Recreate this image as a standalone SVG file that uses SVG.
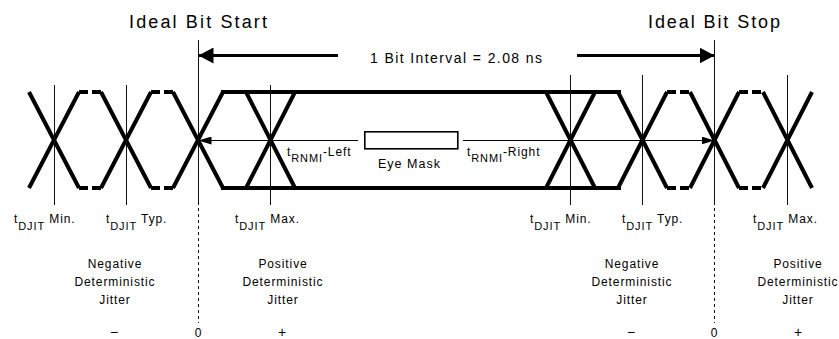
<svg xmlns="http://www.w3.org/2000/svg" width="839" height="339" viewBox="0 0 839 339">
<style>
.bg{fill:#fff}
.x{stroke:#000;stroke-width:4;fill:none}
.rail{stroke:#000;stroke-width:4;fill:none}
.dash{stroke:#000;stroke-width:4;fill:none;stroke-dasharray:9 4}
.vl{stroke:#111;stroke-width:1;fill:none}
.dot{stroke:#111;stroke-width:1;fill:none;stroke-dasharray:3 3}
.thick{stroke:#000;stroke-width:3;fill:none}
.thin{stroke:#000;stroke-width:1;fill:none}
.mask{stroke:#000;stroke-width:1.6;fill:#fff}
text{font-family:"Liberation Sans",Arial,sans-serif;fill:#000}
.t18{font-size:18px}
.t14{font-size:14px}
.t12{font-size:12.5px;letter-spacing:1px}
.t11{font-size:12px;letter-spacing:0.9px}
.sub{font-size:11px}
.sign{font-size:14px}
.mid{text-anchor:middle}
</style>
<defs>
<marker id="bigHead" markerWidth="15" markerHeight="16" refX="15" refY="8" orient="auto" markerUnits="userSpaceOnUse">
<path d="M0,0 L15,8 L0,16 Z" fill="#000"/>
</marker>
<marker id="smallHead" markerWidth="13" markerHeight="8" refX="13" refY="4" orient="auto" markerUnits="userSpaceOnUse">
<path d="M0,0 L13,4 L0,8 Z" fill="#000"/>
</marker>
</defs>
<rect class="bg" x="0" y="0" width="839" height="339"/>

<g id="eye-pattern">
<path class="rail" d="M221,92 H621 M221,188 H621"/>
<path class="dash" d="M79,92 H101 M151,92 H173 M667,92 H690 M739,92 H763 M79,188 H101 M151,188 H173 M667,188 H690 M739,188 H763"/>
<path class="x" d="M29,92 L79,188 M79,92 L29,188"/>
<path class="x" d="M101,92 L151,188 M151,92 L101,188"/>
<path class="x" d="M173,92 L223,188 M223,92 L173,188"/>
<path class="x" d="M246,92 L295,188 M295,92 L246,188"/>
<path class="x" d="M546,92 L595,188 M595,92 L546,188"/>
<path class="x" d="M618,92 L667,188 M667,92 L618,188"/>
<path class="x" d="M690,92 L739,188 M739,92 L690,188"/>
<path class="x" d="M763,92 L812,188 M812,92 L763,188"/>
</g>

<g id="reference-lines">
<path class="vl" d="M54.5,85 V205 M126.5,85 V205 M270.5,85 V205 M570.5,75 V205 M642.5,75 V205 M787.5,75 V205"/>
<path class="vl" d="M198.5,40 V205 M714.5,40 V205"/>
<path class="dot" d="M198.5,208 V323 M714.5,208 V323"/>
</g>

<g id="eye-mask">
<rect class="mask" x="364.8" y="131.8" width="93" height="17"/>
<text class="t12" x="378" y="168">Eye Mask</text>
</g>

<g id="connectors">
<line class="thick" x1="338" y1="55.5" x2="198.5" y2="55.5" marker-end="url(#bigHead)"/>
<line class="thick" x1="577" y1="55.5" x2="714.5" y2="55.5" marker-end="url(#bigHead)"/>
<line class="thin" x1="358" y1="140.5" x2="198.5" y2="140.5" marker-end="url(#smallHead)"/>
<line class="thin" x1="463" y1="140.5" x2="714.5" y2="140.5" marker-end="url(#smallHead)"/>
</g>

<g id="title-start"><text class="t18" x="129" y="28" textLength="138" lengthAdjust="spacing">Ideal Bit Start</text></g>
<g id="title-stop"><text class="t18" x="648" y="28" textLength="132" lengthAdjust="spacing">Ideal Bit Stop</text></g>
<g id="interval-label"><text class="t14" x="370" y="63" textLength="172" lengthAdjust="spacing">1 Bit Interval = 2.08 ns</text></g>

<g id="rnmi-left"><text class="t11" x="287" y="156">t<tspan class="sub" dy="6">RNMI</tspan><tspan dy="-6">-Left</tspan></text></g>
<g id="rnmi-right"><text class="t11" x="467" y="156">t<tspan class="sub" dy="6">RNMI</tspan><tspan dy="-6">-Right</tspan></text></g>

<g id="djit-labels">
<text class="t11" x="14" y="223">t<tspan class="sub" dy="7">DJIT</tspan><tspan dy="-7"> Min.</tspan></text>
<text class="t11" x="106" y="223">t<tspan class="sub" dy="7">DJIT</tspan><tspan dy="-7"> Typ.</tspan></text>
<text class="t11" x="235" y="223">t<tspan class="sub" dy="7">DJIT</tspan><tspan dy="-7"> Max.</tspan></text>
<text class="t11" x="530" y="223">t<tspan class="sub" dy="7">DJIT</tspan><tspan dy="-7"> Min.</tspan></text>
<text class="t11" x="622" y="223">t<tspan class="sub" dy="7">DJIT</tspan><tspan dy="-7"> Typ.</tspan></text>
<text class="t11" x="753" y="223">t<tspan class="sub" dy="7">DJIT</tspan><tspan dy="-7"> Max.</tspan></text>
</g>

<g id="jitter-left-neg">
<text class="t11 mid" x="115" y="268">Negative</text>
<text class="t11 mid" x="115" y="286">Deterministic</text>
<text class="t11 mid" x="115" y="304">Jitter</text>
<text class="sign mid" x="114" y="337">−</text>
</g>
<g id="jitter-left-pos">
<text class="t11 mid" x="283" y="268">Positive</text>
<text class="t11 mid" x="283" y="286">Deterministic</text>
<text class="t11 mid" x="283" y="304">Jitter</text>
<text class="sign mid" x="282" y="337">+</text>
</g>
<g id="zero-left"><text class="t11 mid" x="198.5" y="337">0</text></g>
<g id="jitter-right-neg">
<text class="t11 mid" x="632" y="268">Negative</text>
<text class="t11 mid" x="632" y="286">Deterministic</text>
<text class="t11 mid" x="632" y="304">Jitter</text>
<text class="sign mid" x="631" y="337">−</text>
</g>
<g id="jitter-right-pos">
<text class="t11 mid" x="798" y="268">Positive</text>
<text class="t11 mid" x="798" y="286">Deterministic</text>
<text class="t11 mid" x="798" y="304">Jitter</text>
<text class="sign mid" x="798" y="337">+</text>
</g>
<g id="zero-right"><text class="t11 mid" x="714.5" y="337">0</text></g>
</svg>
